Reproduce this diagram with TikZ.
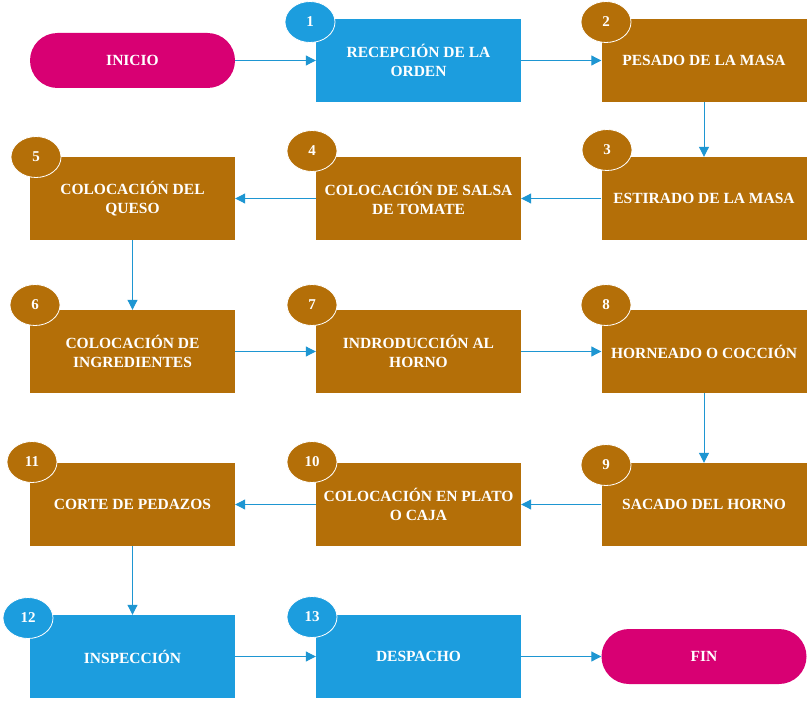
\documentclass[tikz,border=0pt]{standalone}
\usepackage{fontspec}
\setmainfont{Liberation Serif}
\usetikzlibrary{arrows.meta,shapes.geometric}
\definecolor{cblue}{RGB}{28,157,222}
\definecolor{cbrown}{RGB}{180,111,8}
\definecolor{cmag}{RGB}{216,0,115}
\definecolor{carrow}{RGB}{30,150,210}
\begin{document}
\begin{tikzpicture}[x=1pt,y=-1pt,
  box/.style={minimum width=205pt, minimum height=83pt, inner sep=0pt, align=center, text=white, font=\fontsize{15.5}{19}\selectfont\bfseries},
  bbox/.style={box, fill=cblue},
  obox/.style={box, fill=cbrown},
  term/.style={box, fill=cmag, rounded corners=27.5pt, minimum height=55pt},
  badge/.style={ellipse, minimum width=50pt, minimum height=41pt, inner sep=0pt, draw=white, line width=0.8pt, text=white, font=\fontsize{15}{15}\selectfont\bfseries},
  bbadge/.style={badge, fill=cblue},
  obadge/.style={badge, fill=cbrown},
  conn/.style={draw=carrow, line width=1pt, -{Triangle[length=10pt,width=10pt]}}
]
\useasboundingbox (0,0) rectangle (809,701);
\node[term] (inicio) at (132.5,60.5) {INICIO};
\node[bbox] (b1) at (418.5,60.5) {RECEPCIÓN DE LA\\ORDEN};
\node[obox] (b2) at (704,60.5) {PESADO DE LA MASA};
\node[obox] (b3) at (704,198.5) {ESTIRADO DE LA MASA};
\node[obox] (b4) at (418.5,198.5) {COLOCACIÓN DE SALSA\\DE TOMATE};
\node[obox] (b5) at (132.5,198.5) {COLOCACIÓN DEL\\QUESO};
\node[obox] (b6) at (132.5,351.5) {COLOCACIÓN DE\\INGREDIENTES};
\node[obox] (b7) at (418.5,351.5) {INDRODUCCIÓN AL\\HORNO};
\node[obox] (b8) at (704,351.5) {HORNEADO O COCCIÓN};
\node[obox] (b9) at (704,504.5) {SACADO DEL HORNO};
\node[obox] (b10) at (418.5,504.5) {COLOCACIÓN EN PLATO\\O CAJA};
\node[obox] (b11) at (132.5,504.5) {CORTE DE PEDAZOS};
\node[bbox] (b12) at (132.5,656.5) {INSPECCIÓN};
\node[bbox] (b13) at (418.5,656.5) {DESPACHO};
\node[term] (fin) at (704,656.5) {FIN};

\node[bbadge] (n1) at (310,22) {1};
\node[obadge] (n2) at (606,22) {2};
\node[obadge] (n3) at (607,150) {3};
\node[obadge] (n4) at (312,151) {4};
\node[obadge] (n5) at (36,157) {5};
\node[obadge] (n6) at (35,305) {6};
\node[obadge] (n7) at (312,305) {7};
\node[obadge] (n8) at (606,305) {8};
\node[obadge] (n9) at (606,465) {9};
\node[obadge] (n10) at (312,462) {10};
\node[obadge] (n11) at (32,462) {11};
\node[bbadge] (n12) at (28,618) {12};
\node[bbadge] (n13) at (312,617) {13};

\draw[conn] (inicio.east) -- (b1.west);
\draw[conn] (b1.east) -- (b2.west);
\draw[conn] (b2.south) -- (b3.north);
\draw[conn] (b3.west) -- (b4.east);
\draw[conn] (b4.west) -- (b5.east);
\draw[conn] (b5.south) -- (b6.north);
\draw[conn] (b6.east) -- (b7.west);
\draw[conn] (b7.east) -- (b8.west);
\draw[conn] (b8.south) -- (b9.north);
\draw[conn] (b9.west) -- (b10.east);
\draw[conn] (b10.west) -- (b11.east);
\draw[conn] (b11.south) -- (b12.north);
\draw[conn] (b12.east) -- (b13.west);
\draw[conn] (b13.east) -- (fin.west);
\end{tikzpicture}
\end{document}
